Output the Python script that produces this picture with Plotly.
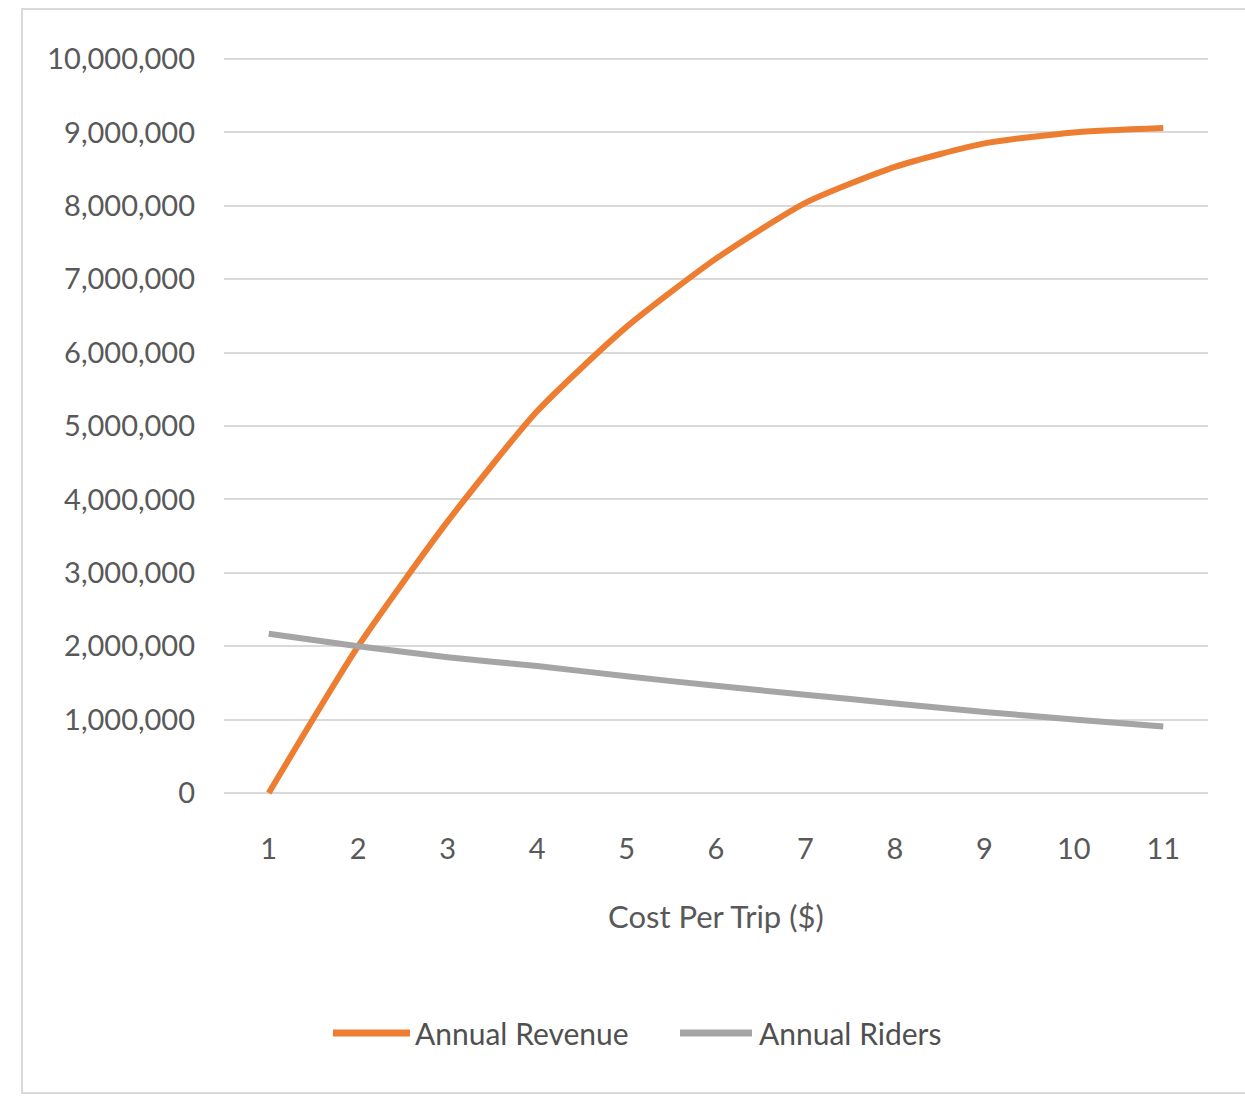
import plotly.graph_objects as go

# Cost per trip in dollars (category axis)
cost_per_trip = [1, 2, 3, 4, 5, 6, 7, 8, 9, 10, 11]
cost_labels = ["1", "2", "3", "4", "5", "6", "7", "8", "9", "10", "11"]

# Annual figures for each fare level
annual_revenue = [0, 2000000, 3700000, 5200000, 6350000, 7280000,
                  8040000, 8530000, 8850000, 9000000, 9060000]
annual_riders = [2170000, 2000000, 1850000, 1730000, 1590000, 1460000,
                 1340000, 1220000, 1105000, 1000000, 906000]

y_ticks = [0, 1000000, 2000000, 3000000, 4000000, 5000000,
           6000000, 7000000, 8000000, 9000000, 10000000]
y_tick_labels = ["0", "1,000,000", "2,000,000", "3,000,000", "4,000,000",
                 "5,000,000", "6,000,000", "7,000,000", "8,000,000",
                 "9,000,000", "10,000,000"]

series_names = ["Annual Revenue", "Annual Riders"]
series_colors = ["#ED7D31", "#A5A5A5"]

FONT = "Lato, 'Open Sans', sans-serif"
TEXT_COLOR = "#595959"

W, H = 1245, 1100
L, R, T, B = 224, 37, 57, 305
plot_w = W - L - R
plot_h = H - T - B
# small padding so the 0 and 10,000,000 gridlines are drawn inside the plot
Y_PAD = 10000000 * 2 / (plot_h - 4)


def px_x(px):
    return (px - L) / plot_w


def px_y(py):
    return (H - B - py) / plot_h


fig = go.Figure()
for name, values, color in zip(series_names, [annual_revenue, annual_riders], series_colors):
    fig.add_trace(go.Scatter(
        x=cost_per_trip, y=values, name=name, mode="lines",
        line=dict(color=color, width=6, shape="spline", smoothing=0.6),
        showlegend=False, cliponaxis=False,
    ))

# Outer chart border
fig.add_shape(type="rect", xref="paper", yref="paper",
              x0=px_x(22), x1=px_x(1260), y0=px_y(1093), y1=px_y(9),
              line=dict(color="#D9D9D9", width=2), layer="below")

# Legend drawn beneath the axis title
legend_items = [
    (333, 410, 413),
    (680, 752, 757),
]
for (lx0, lx1, tx), name, color in zip(legend_items, series_names, series_colors):
    fig.add_shape(type="line", xref="paper", yref="paper",
                  x0=px_x(lx0), x1=px_x(lx1), y0=px_y(1033), y1=px_y(1033),
                  line=dict(color=color, width=7))
    fig.add_annotation(xref="paper", yref="paper", x=px_x(tx), y=px_y(1033),
                       text=name, showarrow=False, xanchor="left", yanchor="middle",
                       font=dict(family=FONT, size=30, color="#505050"))

# X axis title
fig.add_annotation(xref="paper", yref="paper", x=px_x(716), y=px_y(916),
                   text="Cost Per Trip ($)", showarrow=False,
                   xanchor="center", yanchor="middle",
                   font=dict(family=FONT, size=31, color=TEXT_COLOR))

fig.update_layout(
    width=W, height=H,
    margin=dict(l=L, r=R, t=T, b=B, pad=0),
    paper_bgcolor="white", plot_bgcolor="white",
    font=dict(family=FONT, color=TEXT_COLOR),
    xaxis=dict(
        range=[0.5, 11.5], tickmode="array", tickvals=cost_per_trip,
        ticktext=cost_labels, showgrid=False, zeroline=False,
        showline=False, ticks="", ticklabelstandoff=34,
        tickfont=dict(family=FONT, size=29, color=TEXT_COLOR),
    ),
    yaxis=dict(
        range=[-Y_PAD, 10000000 + Y_PAD], tickmode="array", tickvals=y_ticks,
        ticktext=y_tick_labels, showgrid=True, gridcolor="#D9D9D9",
        gridwidth=2, zeroline=False, showline=False, ticks="",
        ticklabelstandoff=28,
        tickfont=dict(family=FONT, size=29, color=TEXT_COLOR),
    ),
)

fig.write_html("out.html")
